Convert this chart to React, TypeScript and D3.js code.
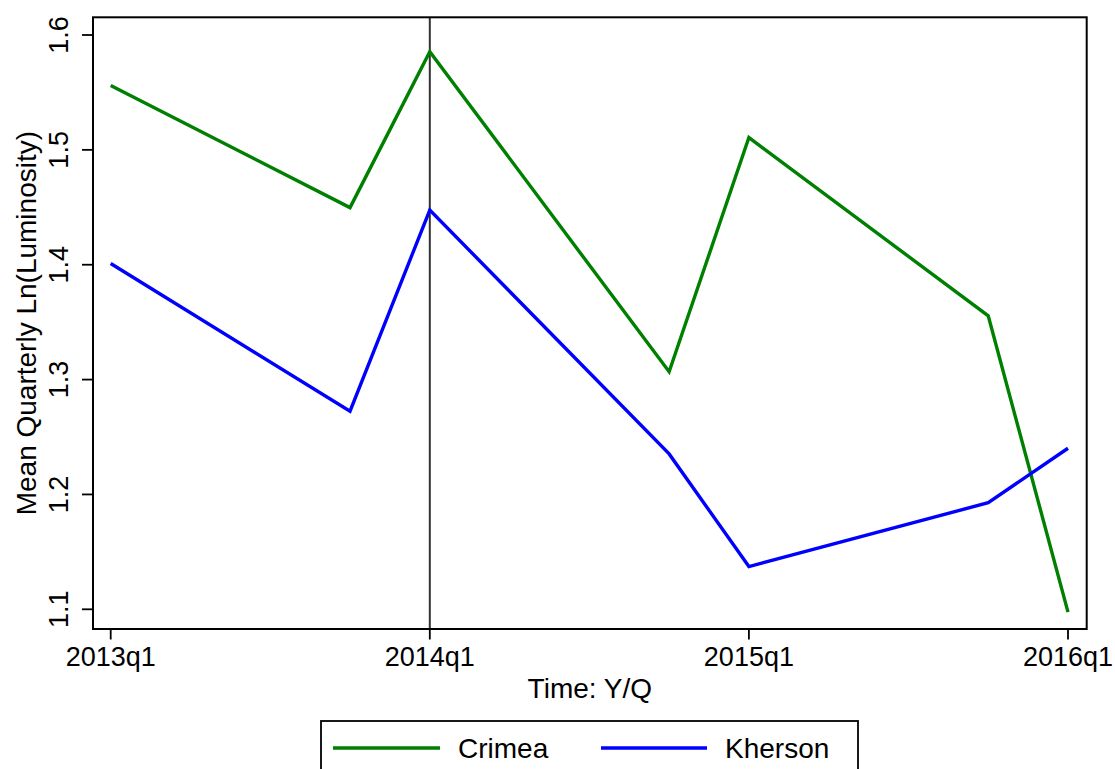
import * as d3 from "d3";

const quarters = ["2013q1", "2013q2", "2013q3", "2013q4", "2014q1", "2014q2", "2014q3", "2014q4", "2015q1", "2015q2", "2015q3", "2015q4", "2016q1"];
const seriesQuarters = ["2013q1", "2013q4", "2014q1", "2014q4", "2015q1", "2015q4", "2016q1"];
const crimea = [1.556, 1.4497, 1.5855, 1.3068, 1.5107, 1.3555, 1.0975];
const kherson = [1.401, 1.2725, 1.4476, 1.2353, 1.1372, 1.1928, 1.2402];
const xTickLabels = ["2013q1", "2014q1", "2015q1", "2016q1"];
const yTicks = [1.1, 1.2, 1.3, 1.4, 1.5, 1.6];
const eventQuarter = "2014q1";

const W = 1115;
const H = 769;
const box = { left: 93, right: 1086.7, top: 17.3, bottom: 629 };
const FONT = "'Liberation Sans', Arial, Helvetica, sans-serif";

const x = d3
  .scaleLinear()
  .domain([0, quarters.length - 1])
  .range([110.7, 1068]);
const y = d3.scaleLinear().domain([1.1, 1.6]).range([609.3, 35]);
const qx = (q: string) => x(quarters.indexOf(q));

const line = d3
  .line<number>()
  .x((_, i) => qx(seriesQuarters[i]))
  .y((d) => y(d));

export default function App() {
  const legendY = 748;
  return (
    <svg
      width={W}
      height={H}
      style={{ position: "absolute", left: 0, top: 0, background: "#fff" }}
      fontFamily={FONT}
    >
      <rect x={0} y={0} width={W} height={H} fill="#fff" />

      {/* event line */}
      <line
        x1={qx(eventQuarter)}
        x2={qx(eventQuarter)}
        y1={box.top}
        y2={box.bottom}
        stroke="#333"
        strokeWidth={2}
      />

      <path d={line(crimea) || ""} fill="none" stroke="#008000" strokeWidth={3.4} strokeLinejoin="miter" />
      <path d={line(kherson) || ""} fill="none" stroke="#0000ff" strokeWidth={3.4} strokeLinejoin="miter" />

      {/* plot box */}
      <rect
        x={box.left}
        y={box.top}
        width={box.right - box.left}
        height={box.bottom - box.top}
        fill="none"
        stroke="#000"
        strokeWidth={2}
      />

      {/* y axis */}
      {yTicks.map((t) => (
        <g key={t}>
          <line x1={box.left - 11} x2={box.left} y1={y(t)} y2={y(t)} stroke="#000" strokeWidth={1.8} />
          <text
            transform={`translate(68,${y(t)}) rotate(-90)`}
            textAnchor="middle"
            fontSize={27}
            fill="#000"
          >
            {t.toFixed(1)}
          </text>
        </g>
      ))}
      <text
        transform={`translate(36,${(box.top + box.bottom) / 2}) rotate(-90)`}
        textAnchor="middle"
        fontSize={28}
        fill="#000"
      >
        Mean Quarterly Ln(Luminosity)
      </text>

      {/* x axis */}
      {xTickLabels.map((q) => (
        <g key={q}>
          <line x1={qx(q)} x2={qx(q)} y1={box.bottom} y2={box.bottom + 10.5} stroke="#000" strokeWidth={1.8} />
          <text x={qx(q)} y={666} textAnchor="middle" fontSize={27} fill="#000">
            {q}
          </text>
        </g>
      ))}
      <text x={(box.left + box.right) / 2} y={698} textAnchor="middle" fontSize={28} fill="#000">
        Time: Y/Q
      </text>

      {/* legend */}
      <rect x={321} y={721} width={537} height={80} fill="#fff" stroke="#000" strokeWidth={1.8} />
      <line x1={333} x2={440} y1={legendY} y2={legendY} stroke="#008000" strokeWidth={3.4} />
      <text x={458} y={legendY + 10} fontSize={28} fill="#000">
        Crimea
      </text>
      <line x1={601} x2={707} y1={legendY} y2={legendY} stroke="#0000ff" strokeWidth={3.4} />
      <text x={725} y={legendY + 10} fontSize={28} fill="#000">
        Kherson
      </text>
    </svg>
  );
}
